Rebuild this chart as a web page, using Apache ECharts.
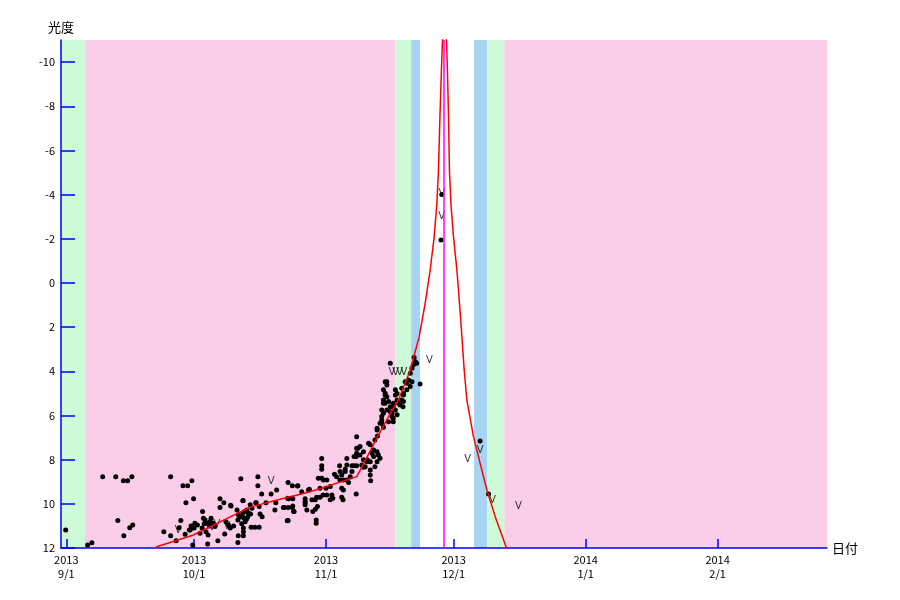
<!DOCTYPE html>
<html>
<head>
<meta charset="utf-8">
<script src="https://cdn.jsdelivr.net/npm/echarts@6/dist/echarts.min.js"></script>
<style>html,body{margin:0;padding:0;background:#fff}#c{width:900px;height:600px}</style>
</head>
<body>
<div id="c"></div>
<script>
// ---- data: [day of month (fractional), magnitude] ----
const obsSep = [[0.85,11.18],[6.0,11.86],[7.0,11.76],[9.55,8.77],[12.6,8.77],[14.4,8.95],[15.4,8.95],[16.4,8.77],
  [13.1,10.76],[14.5,11.44],[15.9,11.08],[16.6,10.96],[25.5,8.77],[28.4,9.18],[29.5,9.18],[30.5,8.95],[30.9,9.77],
  [29.1,9.95],[23.9,11.26],[25.5,11.44],[26.8,11.67],[27.5,11.08],[27.9,10.76],[28.9,11.38],[30.1,11.18],[30.7,11.86],
  [30.3,11.0],[29.9,11.18]];
const obsOct = [[1.2,10.88],[1.8,10.96],[2.4,11.33],[3.0,10.35],[3.2,10.65],[3.6,10.73],[4.0,10.88],[3.8,11.26],
  [4.3,11.41],[4.2,11.82],[5.0,10.65],[5.5,10.88],[5.9,11.03],[6.6,11.67],[7.1,9.77],[7.1,10.17],[8.0,9.95],
  [8.2,11.37],[8.5,10.81],[9.1,10.96],[9.5,11.1],[9.7,10.1],[10.3,11.0],[11.1,10.28],[11.4,10.5],[11.3,10.73],
  [12.0,8.87],[12.5,9.85],[12.5,10.43],[12.8,10.65],[13.0,10.81],[12.2,10.58],[12.6,11.1],[12.6,11.26],[12.6,11.45],
  [11.4,11.44],[11.3,11.75],[13.4,10.28],[13.8,10.43],[14.3,10.46],[14.6,10.2],[14.4,11.06],[15.3,11.06],[16.3,11.06],
  [15.5,9.95],[16.0,8.77],[16.0,9.18],[16.3,10.12],[16.5,10.46],[17.0,10.58],[16.9,9.55],[17.9,9.95],[19.1,9.55],
  [20.0,10.28],[20.4,9.37],[22.2,10.17],[23.1,10.17],[23.1,9.04],[23.1,10.76],[23.2,9.77],[24.1,9.18],[24.2,9.77],
  [24.2,10.1],[24.4,10.35],[25.4,9.18],[26.3,9.45],[27.1,9.77],[27.1,9.95],[27.5,10.28],[27.9,9.37],
  [9.6,10.07],[12.5,9.86],[14.2,10.04],[15.6,9.95],[20.2,9.95],[23.0,9.75],[24.1,9.75],[24.1,10.17],[23.0,10.77],
  [11.8,10.6],[12.2,10.9],[13.3,10.7],[13.6,10.6],[12.9,10.35],[3.4,10.9],[4.6,11.0],[2.9,11.1],[4.8,10.8],[1.0,11.1],
  [25.3,9.19],[22.0,10.17],[24.5,10.35],[22.9,10.75],[27.1,9.9],[27.1,10.04],[28.1,9.34],[28.7,9.82],[29.5,9.82],
  [28.9,10.35],[29.5,10.25],[30.0,10.12],[29.7,10.73],[29.7,10.88],[29.8,9.7],[30.6,9.7],[30.2,8.84],[30.6,9.29],
  [31.0,7.95],[31.0,8.28],[31.0,8.43],[31.0,8.84],[31.4,8.92],[31.3,9.6]];
const obsNov = [[1.2,8.92],[1.0,9.29],[1.2,9.6],[2.0,9.22],[2.4,9.6],[2.0,9.82],[2.6,9.75],[3.0,8.66],[3.5,8.77],
  [4.2,8.28],[4.3,8.54],[4.3,8.92],[5.1,8.92],[4.7,8.69],[5.5,8.54],[4.7,9.29],[5.1,9.37],[4.7,9.7],[5.0,9.82],
  [5.5,8.43],[5.9,7.95],[5.9,8.24],[5.9,8.92],[6.3,9.04],[6.7,8.77],[7.1,8.54],[7.1,8.28],[7.6,8.28],[8.2,8.28],
  [7.6,7.86],[8.1,7.86],[8.2,6.96],[8.2,7.48],[8.5,7.48],[8.1,9.55],[9.0,7.79],[9.0,7.41],[8.2,7.71],[9.4,8.24],
  [9.8,8.34],[9.8,7.64],[9.8,8.01],[10.2,8.32],[10.6,8.09],[11.0,7.26],[10.7,8.01],[11.4,8.09],[11.4,8.47],
  [11.4,8.69],[11.5,8.95],[11.8,7.71],[12.2,7.86],[11.4,7.33],[12.2,7.56],[12.5,8.32],[13.0,8.09],[12.5,7.11],
  [13.0,6.66],[13.1,6.93],[13.0,7.64],[13.3,7.79],[13.7,7.94],[14.1,6.35],[14.1,5.75],[14.1,6.05],[14.1,6.2],
  [14.5,5.45],[14.5,5.3],[14.9,5.07],[15.3,5.15],[15.3,4.62],[15.3,4.47],[15.7,5.37],[16.1,5.6],[16.5,5.9],
  [16.8,6.13],[16.8,6.28],[17.3,4.84],[17.3,5.07],[17.7,5.3],[18.0,5.45],[18.8,4.77],[19.2,5.0],[19.6,4.47],
  [21.2,4.47],[23.1,4.57],[16.1,3.64],[22.0,3.57],[22.3,3.64],[21.5,3.71],[21.7,3.38],[21.2,3.86],[20.8,4.09],
  [20.4,4.39],[20.0,4.54],[20.8,4.69],[20.0,4.84],[19.2,5.07],[18.8,5.3],[18.4,5.52],[19.1,5.6],[17.7,5.0],
  [16.8,5.45],[16.8,5.6],[17.3,5.75],[14.9,4.47],[14.5,4.84],[14.9,4.99],[14.9,5.45],[15.3,5.75],[14.5,5.9],
  [13.7,6.35],[16.1,5.83],[16.5,6.05],[15.7,6.28],[17.7,5.97],[13.0,6.58],[14.5,6.53],[19.2,5.37],
  [28.2,-4.0],[28.0,-1.95]];
const obsDec = [[7.2,7.15],[9.2,9.55]];

// "V" marks: [day of month, magnitude]
const vSep = [[27.3,11.21]];
const vOct = [[5.2,11.05],[6.4,10.95],[8.7,11.0],[19.1,9.0]];
const vNov = [[16.5,4.04],[17.4,4.04],[18.3,4.04],[19.3,4.04],[25.3,3.52],[28.25,-4.05],[28.2,-3.03]];
const vDec = [[4.3,7.98],[7.2,7.56],[10.1,9.85],[16.2,10.1]];

// model light curve: [year, month, day, magnitude]
const modelCurve = [[2013,9,21.5,12.2],[2013,9,22.25,11.94],[2013,9,30.85,11.41],[2013,10,14.2,10.15],[2013,10,21.2,9.79],
  [2013,10,28.3,9.45],[2013,11,8.25,8.77],[2013,11,12.95,7.03],[2013,11,16.1,5.9],[2013,11,18.03,5.30],
  [2013,11,20.8,3.94],[2013,11,22.9,2.43],[2013,11,24.3,0.92],[2013,11,25.48,-0.59],[2013,11,26.42,-2.10],
  [2013,11,27.05,-3.61],[2013,11,27.43,-5.11],[2013,11,27.6,-6.34],[2013,11,27.8,-7.70],[2013,11,28.1,-9.51],
  [2013,11,28.37,-11.0],[2013,11,28.78,-14.0],[2013,11,29.31,-11.0],[2013,11,29.55,-9.51],[2013,11,29.8,-7.38],
  [2013,11,30.0,-5.11],[2013,11,30.34,-3.61],[2013,11,30.95,-2.10],[2013,12,1.75,-0.59],[2013,12,2.36,0.92],
  [2013,12,2.93,2.43],[2013,12,3.47,3.94],[2013,12,4.1,5.30],[2013,12,4.5,5.75],[2013,12,5.65,6.96],
  [2013,12,7.2,8.16],[2013,12,8.8,9.37],[2013,12,10.75,10.58],[2013,12,13.3,11.94],[2013,12,13.6,12.2]];

const perihelion = [2013,11,28.78];
// background bands: [from, to, kind]
const bands = [
  [[2013,9,-0.25],[2013,9,5.4],'green'],
  [[2013,9,5.4],[2013,11,17.25],'pink'],
  [[2013,11,17.25],[2013,11,21.0],'green'],
  [[2013,11,21.0],[2013,11,23.1],'blue'],
  [[2013,12,5.8],[2013,12,8.9],'blue'],
  [[2013,12,8.9],[2013,12,12.9],'green'],
  [[2013,12,12.9],[2014,2,26.7],'pink']
];
const xRange = [[2013,9,-0.25],[2014,2,26.7]];
const xTicks = [[2013,9,1],[2013,10,1],[2013,11,1],[2013,12,1],[2014,1,1],[2014,2,1]];
const yTicks = [-10,-8,-6,-4,-2,0,2,4,6,8,10,12];
const yRange = [-11,12];

// ---- helpers ----
const DAY = 86400000;
function ts(y,m,d){ return Date.UTC(y,m-1,1) + (d-1)*DAY; }
function tsA(a){ return ts(a[0],a[1],a[2]); }
function month(arr,y,m){ return arr.map(p => [ts(y,m,p[0]), p[1]]); }

const obs = [].concat(month(obsSep,2013,9), month(obsOct,2013,10), month(obsNov,2013,11), month(obsDec,2013,12));
const vmarks = [].concat(month(vSep,2013,9), month(vOct,2013,10), month(vNov,2013,11), month(vDec,2013,12));
const model = modelCurve.map(p => [ts(p[0],p[1],p[2]), p[3]]);
const bandColor = {green:'#cffad8', pink:'#facde9', blue:'#a6d4f2'};

const FONT = 'Noto Sans CJK JP';
const chart = echarts.init(document.getElementById('c'));
chart.setOption({
  animation: false,
  backgroundColor: '#fff',
  grid: {left: 61, right: 73, top: 40, bottom: 52},
  xAxis: {
    type: 'value', position: 'bottom', min: tsA(xRange[0]), max: tsA(xRange[1]),
    name: '日付', nameLocation: 'end', nameGap: 5,
    nameTextStyle: {color: '#000', fontSize: 13, fontFamily: FONT},
    axisLine: {show: true, onZero: false, lineStyle: {color: '#0000ff', width: 1.5}},
    axisTick: {show: true, inside: true, length: 9, lineStyle: {color: '#0000ff', width: 1.5},
      customValues: xTicks.map(tsA)},
    axisLabel: {color: '#000', fontSize: 11, fontFamily: FONT, lineHeight: 14, margin: 5,
      customValues: xTicks.map(tsA),
      formatter: v => { const d = new Date(v); return d.getUTCFullYear() + '\n' + (d.getUTCMonth()+1) + '/' + d.getUTCDate(); }},
    splitLine: {show: false}
  },
  yAxis: {
    type: 'value', inverse: true, min: yRange[0], max: yRange[1],
    name: '光度', nameLocation: 'start', nameGap: 6,
    nameTextStyle: {color: '#000', fontSize: 13, fontFamily: FONT, align: 'center'},
    axisLine: {show: true, onZero: false, lineStyle: {color: '#0000ff', width: 1.5}},
    axisTick: {show: true, inside: true, length: 14, lineStyle: {color: '#0000ff', width: 1.5}, customValues: yTicks},
    axisLabel: {color: '#000', fontSize: 11, fontFamily: FONT, margin: 6, customValues: yTicks},
    splitLine: {show: false}
  },
  series: [
    {
      type: 'line', data: [], silent: true,
      markArea: {silent: true, z: 0,
        data: bands.map(b => [{xAxis: tsA(b[0]), itemStyle: {color: bandColor[b[2]], opacity: 1}}, {xAxis: tsA(b[1])}])}
    },
    {
      type: 'scatter', data: obs, symbol: 'circle', symbolSize: 5, z: 3,
      itemStyle: {color: '#000', opacity: 1}
    },
    {
      type: 'scatter', data: vmarks, symbolSize: 0, z: 4,
      label: {show: true, position: 'inside', formatter: 'V', color: '#000', fontSize: 10, fontFamily: 'DejaVu Sans'}
    },
    {
      type: 'line', data: model, showSymbol: false, smooth: false, z: 5,
      lineStyle: {color: '#ff0000', width: 1.5},
      markLine: {silent: true, symbol: 'none', label: {show: false},
        lineStyle: {color: '#ff00ff', width: 1.5, type: 'solid'},
        data: [{xAxis: tsA(perihelion)}]}
    }
  ]
});
</script>
</body>
</html>
